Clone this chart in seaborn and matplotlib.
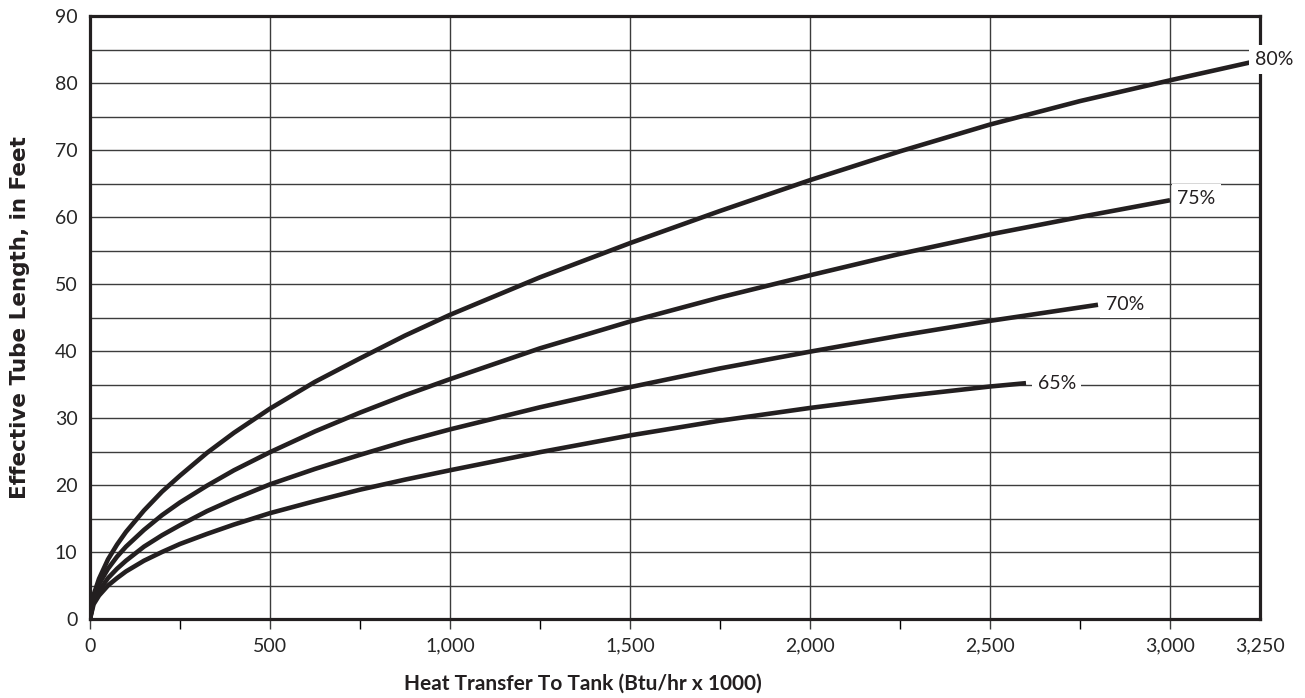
import matplotlib
matplotlib.use("Agg")
import matplotlib.pyplot as plt
import seaborn as sns
import pandas as pd
from matplotlib.ticker import MultipleLocator

# ==========================================
# DATA
# ==========================================
x_80 = [0, 10, 25, 50, 75, 100, 150, 200, 250, 325, 400, 500, 625, 750, 875, 1000,
        1250, 1500, 1750, 2000, 2250, 2500, 2750, 3000, 3250]
y_80 = [0, 3.6, 6.0, 8.9, 11.1, 13.0, 16.2, 19.0, 21.4, 24.8, 27.8, 31.4, 35.4, 38.9, 42.3, 45.4,
        51.0, 56.1, 60.9, 65.5, 69.8, 73.8, 77.3, 80.4, 83.4]

x_75 = [0, 10, 25, 50, 75, 100, 150, 200, 250, 325, 400, 500, 625, 750, 875, 1000,
        1250, 1500, 1750, 2000, 2250, 2500, 2750, 3000]
y_75 = [0, 3.3, 5.2, 7.5, 9.3, 10.8, 13.3, 15.5, 17.4, 19.9, 22.2, 24.9, 28.0, 30.8, 33.4, 35.8,
        40.4, 44.4, 48.0, 51.3, 54.5, 57.4, 60.0, 62.5]

x_70 = [0, 10, 25, 50, 75, 100, 150, 200, 250, 325, 400, 500, 625, 750, 875, 1000,
        1250, 1500, 1750, 2000, 2250, 2500, 2750, 2800]
y_70 = [0, 2.6, 4.2, 6.1, 7.5, 8.7, 10.8, 12.5, 14.0, 16.1, 17.9, 20.1, 22.4, 24.5, 26.5, 28.3,
        31.6, 34.6, 37.4, 39.9, 42.3, 44.5, 46.5, 46.9]

x_65 = [0, 10, 25, 50, 75, 100, 150, 200, 250, 325, 400, 500, 625, 750, 875, 1000,
        1250, 1500, 1750, 2000, 2250, 2500, 2600]
y_65 = [0, 2.2, 3.5, 5.0, 6.1, 7.1, 8.7, 10.0, 11.2, 12.7, 14.1, 15.8, 17.6, 19.3, 20.8, 22.2,
        24.9, 27.4, 29.6, 31.5, 33.2, 34.7, 35.2]

series_names = ["80%", "75%", "70%", "65%"]
series_x = [x_80, x_75, x_70, x_65]
series_y = [y_80, y_75, y_70, y_65]

# posisi label kurva (data coords)
label_x = [3236, 3020, 2822, 2632]
label_y = [83.5, 62.8, 47.0, 35.2]

x_ticks = [0, 500, 1000, 1500, 2000, 2500, 3000, 3250]
x_tick_labels = ["0", "500", "1,000", "1,500", "2,000", "2,500", "3,000", "3,250"]
y_ticks = [0, 10, 20, 30, 40, 50, 60, 70, 80, 90]

LINE_COLOR = "#231f20"
GRID_COLOR = "#3c3c3c"

# ==========================================
# STYLE
# ==========================================
sns.set_theme(style="white")
plt.rcParams["font.family"] = ["Lato", "DejaVu Sans"]

rows = []
for name, xs, ys in zip(series_names, series_x, series_y):
    for xv, yv in zip(xs, ys):
        rows.append({"series": name, "x": xv, "y": yv})
df = pd.DataFrame(rows)

fig = plt.figure(figsize=(13.05, 6.98), dpi=100)
ax = fig.add_axes([90 / 1305, 79 / 698, 1170 / 1305, 603 / 698])

sns.lineplot(data=df, x="x", y="y", hue="series", hue_order=series_names,
             palette=[LINE_COLOR] * 4, linewidth=3.3, legend=False,
             estimator=None, sort=True, ax=ax, zorder=3)
for line in ax.get_lines():
    line.set_solid_capstyle("butt")
    line.set_solid_joinstyle("round")

ax.set_xlim(0, 3250)
ax.set_ylim(0, 90)

# grid
ax.set_xticks(x_ticks)
ax.set_xticklabels(x_tick_labels)
ax.xaxis.set_minor_locator(MultipleLocator(250))
ax.set_yticks(y_ticks)

ax.grid(False)
for xv in range(500, 3001, 500):
    ax.axvline(xv, color=GRID_COLOR, lw=1.0, zorder=1)
for yv in range(5, 90, 5):
    ax.axhline(yv, color=GRID_COLOR, lw=1.0, zorder=1)

ax.tick_params(axis="x", which="major", direction="out", length=7.5, width=1.0,
               color=GRID_COLOR, pad=6, labelsize=14, bottom=True)
ax.tick_params(axis="x", which="minor", direction="out", length=7.5, width=1.0,
               color="black", bottom=True)
ax.tick_params(axis="y", which="both", length=0, pad=9, labelsize=14, left=True)
ax.xaxis.get_major_ticks()[-1].tick1line.set_visible(False)
ax.xaxis.get_minor_ticks()[-1].tick1line.set_visible(False)

for sp in ax.spines.values():
    sp.set_linewidth(2.3)
    sp.set_color(LINE_COLOR)
    sp.set_zorder(4)

# label kurva
for name, lx, ly in zip(series_names, label_x, label_y):
    ax.text(lx, ly, name, ha="left", va="center", fontsize=14, color=LINE_COLOR,
            zorder=5, clip_on=False,
            bbox=dict(facecolor="white", edgecolor="none", pad=4))

ax.set_xlabel("Heat Transfer To Tank (Btu/hr x 1000)", fontsize=15,
              fontweight="bold", color=LINE_COLOR)
ax.xaxis.set_label_coords(0.421, -0.09)
ax.set_ylabel("Effective Tube Length, in Feet", fontsize=15.5, fontweight="bold",
              color=LINE_COLOR, family=["DejaVu Sans"])
ax.yaxis.set_label_coords(-0.051, 0.5)

fig.savefig("out.png", dpi=100)
